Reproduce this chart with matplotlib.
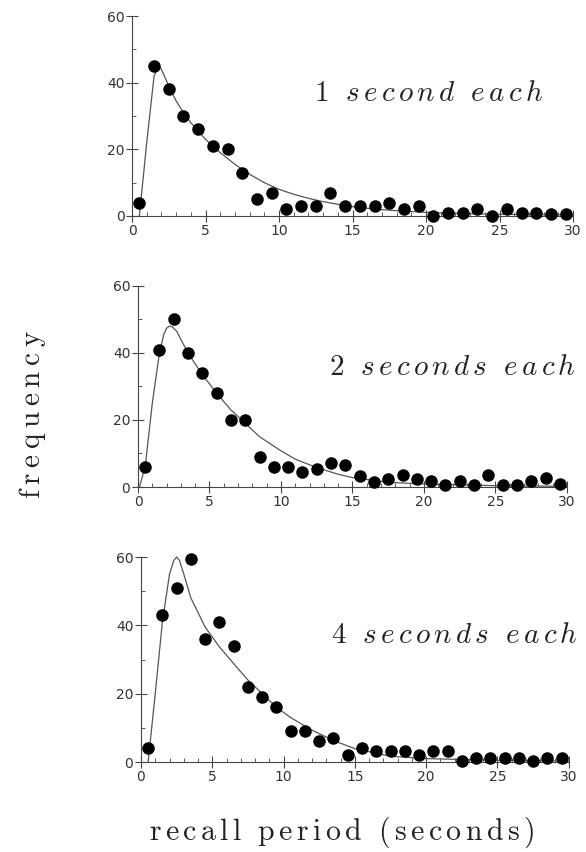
import matplotlib
matplotlib.use("Agg")
import matplotlib.pyplot as plt
import numpy as np
from matplotlib.ticker import MultipleLocator

plt.rcParams['mathtext.fontset'] = 'cm'

# recall period bins (seconds)
bins = [i + 0.5 for i in range(30)]

freq_1s = [4, 45, 38, 30, 26, 21, 20, 13, 5, 7, 2, 3, 3, 7, 3, 3, 3, 4, 2, 3,
           0, 1, 1, 2, 0, 2, 1, 1, 0.5, 0.5]
freq_2s = [6, 41, 50, 40, 34, 28, 20, 20, 9, 6, 6, 4.5, 5.5, 7.3, 6.6, 3.4, 1.5, 2.5, 3.5, 2.5,
           1.7, 0.7, 1.7, 0.7, 3.7, 0.7, 0.7, 1.7, 2.7, 0.9]
freq_4s = [4, 43, 51, 59.3, 36, 41, 34, 22, 19, 16, 9, 9, 6.3, 7, 2.1, 4.2, 3.2, 3.2, 3.2, 2.2,
           3.2, 3.2, 0.3, 1.3, 1.3, 1.3, 1.3, 0.4, 1.3, 1.3]

# fitted curves
fit_x_1s = [0.5, 1.0, 1.5, 1.8, 2.0, 2.5, 3, 3.5, 4, 5, 6, 7, 8, 9, 10, 11, 12, 13, 14, 15,
            16, 17, 18, 20, 22, 25, 30]
fit_y_1s = [0, 22, 42, 45, 44, 39, 34.5, 31, 28, 23, 19, 15.5, 12.5, 10, 8, 6.5, 5.3, 4.3, 3.5, 2.8,
            2.3, 1.9, 1.6, 1.1, 0.8, 0.5, 0.3]
fit_x_2s = [0.1, 0.5, 1.0, 1.5, 1.8, 2.0, 2.2, 2.4, 2.7, 3.0, 3.5, 4.5, 5.5, 6.5, 7.5, 8.5, 10,
            11, 12.5, 14, 15, 17.5, 20, 25, 30]
fit_y_2s = [0, 6, 25, 40, 45.5, 47.4, 48, 47.8, 46.5, 44, 40, 33.5, 28, 23, 19, 15, 10.8,
            8.3, 5.8, 3.8, 2.8, 1.4, 0.9, 0.4, 0.2]
fit_x_4s = [0.5, 1.0, 1.5, 2.0, 2.3, 2.5, 2.7, 3.0, 3.5, 4.5, 5.5, 6.5, 7.5, 8.5, 9.5, 10.5,
            12, 13.5, 15, 17.5, 20, 25, 30]
fit_y_4s = [0, 20, 41, 55, 59, 60, 59, 55, 48, 39.5, 33.7, 28.8, 24, 20, 16, 13,
            9.3, 6.3, 3.9, 1.7, 1.0, 0.5, 0.3]

labels = ['1 second each', '2 seconds each', '4 seconds each']


def spaced(text, style, gap=r'\,', word=r'\ \ '):
    # letter-spaced mathtext string
    words = [gap.join(w) for w in text.split(' ')]
    return '$\\' + style + '{' + word.join(words) + '}$'


series = [(freq_1s, fit_x_1s, fit_y_1s), (freq_2s, fit_x_2s, fit_y_2s),
          (freq_4s, fit_x_4s, fit_y_4s)]

# axes boxes [left, bottom, width, height] in figure fractions
boxes = [[0.2253, 0.7465, 0.7526, 0.2347],
         [0.2355, 0.4284, 0.7320, 0.2360],
         [0.2406, 0.1056, 0.7300, 0.2406]]
label_pos = [(0.927, 0.891), (0.982, 0.569), (0.986, 0.255)]

fig = plt.figure(figsize=(5.86, 8.52), dpi=100)

for (freq, fx, fy), box, lab, lp in zip(series, boxes, labels, label_pos):
    ax = fig.add_axes(box)
    ax.plot(fx, fy, color='#555555', lw=0.9, clip_on=False)
    ax.plot(bins, freq, 'o', color='black', ms=8, clip_on=False, zorder=3)
    ax.set_xlim(0, 30)
    ax.set_ylim(0, 60)
    for s in ['top', 'right']:
        ax.spines[s].set_visible(False)
    for s in ['left', 'bottom']:
        ax.spines[s].set_color('#444444')
        ax.spines[s].set_linewidth(0.8)
    ax.xaxis.set_major_locator(MultipleLocator(5))
    ax.xaxis.set_minor_locator(MultipleLocator(1))
    ax.yaxis.set_major_locator(MultipleLocator(20))
    ax.yaxis.set_minor_locator(MultipleLocator(10))
    ax.tick_params(which='major', direction='inout', length=9, width=0.8,
                   color='#444444', labelsize=10, labelcolor='#333333')
    ax.tick_params(which='minor', direction='in', length=3, width=0.6, color='#444444')
    ax.tick_params(axis='x', pad=1)
    ax.tick_params(axis='y', pad=1)
    fig.text(lp[0], lp[1], spaced(lab, 'mathit'), fontsize=21, ha='right',
             va='center', color='#222222')

fig.text(0.056, 0.514, spaced('frequency', 'mathrm', gap=r'\>'), fontsize=21,
         rotation=90, ha='center', va='center', color='#222222')
fig.text(0.583, 0.023, spaced('recall period (seconds)', 'mathrm'),
         fontsize=21.5, ha='center', va='center', color='#222222')

fig.savefig('out.png', dpi=100)
